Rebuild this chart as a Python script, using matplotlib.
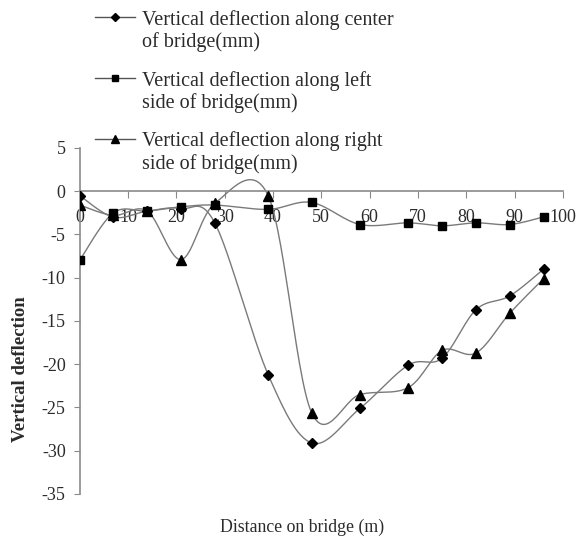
import matplotlib
matplotlib.use("Agg")
import matplotlib.pyplot as plt
from matplotlib.lines import Line2D
import numpy as np

plt.rcParams['font.family'] = ['Liberation Serif', 'DejaVu Serif']
plt.rcParams['axes.unicode_minus'] = False

# datos
distancia = [0, 7, 14, 21, 28, 39, 48, 58, 68, 75, 82, 89, 96]
centro = [-0.5, -3.0, -2.3, -2.0, -3.7, -21.2, -29.1, -25.1, -20.1, -19.3, -13.7, -12.1, -9.0]
izquierdo = [-8.0, -2.5, -2.3, -1.8, -1.6, -2.1, -1.3, -3.85, -3.66, -4.0, -3.66, -3.85, -2.97]
derecho = [-1.6, -2.8, -2.3, -7.9, -1.4, -0.5, -25.6, -23.5, -22.7, -18.4, -18.7, -14.1, -10.1]

etiquetas = ['Vertical deflection along center\nof bridge(mm)',
             'Vertical deflection along left\nside of bridge(mm)',
             'Vertical deflection along right\nside of bridge(mm)']
marcadores = ['D', 's', '^']
tam_marcadores = [5, 6, 7]

color_linea = '#7a7a7a'
color_texto = '#2b2b2b'


def suavizar(x, y, n=30):
    # curva suave estilo Excel (Bezier con tension 1/6)
    p = np.column_stack([x, y]).astype(float)
    pts = np.vstack([p[0], p, p[-1]])
    out = []
    for i in range(1, len(pts) - 2):
        p0, p1, p2, p3 = pts[i - 1], pts[i], pts[i + 1], pts[i + 2]
        c1 = p1 + (p2 - p0) / 6
        c2 = p2 - (p3 - p1) / 6
        t = np.linspace(0, 1, n)[:, None]
        seg = ((1 - t) ** 3) * p1 + 3 * ((1 - t) ** 2) * t * c1 + 3 * (1 - t) * t ** 2 * c2 + t ** 3 * p2
        out.append(seg)
    out = np.vstack(out)
    return out[:, 0], out[:, 1]


fig = plt.figure(figsize=(5.81, 5.39), dpi=100)
ax = fig.add_axes([0.137, 0.0835, 0.832, 0.642])

for serie, m, ms in zip([centro, izquierdo, derecho], marcadores, tam_marcadores):
    xs, ys = suavizar(distancia, serie)
    ax.plot(xs, ys, color=color_linea, lw=1.0, zorder=2)
    ax.plot(distancia, serie, linestyle='none', marker=m, markersize=ms,
            color='black', zorder=3)

ax.set_xlim(0, 100)
ax.set_ylim(-35, 5)
ax.set_xticks(range(0, 101, 10))
ax.set_yticks(range(-35, 6, 5))

ax.spines['top'].set_visible(False)
ax.spines['right'].set_visible(False)
ax.spines['bottom'].set_position(('data', 0))
for s in ['left', 'bottom']:
    ax.spines[s].set_color('#8a8a8a')
    ax.spines[s].set_linewidth(1.2)

ax.tick_params(axis='x', direction='out', length=5, color='#8a8a8a', pad=8,
               labelsize=13, labelcolor=color_texto)
ax.tick_params(axis='y', direction='out', length=4, color='#8a8a8a', pad=6,
               labelsize=13, labelcolor=color_texto)

ax.set_xlabel('Distance on bridge (m)', fontsize=12.8, color=color_texto)
ax.xaxis.set_label_coords(0.46, -0.07)
ax.set_ylabel('Vertical deflection', fontsize=13.5, fontweight='bold', color=color_texto)
ax.yaxis.set_label_coords(-0.105, 0.36)

# leyenda manual arriba
y0 = 0.968
paso = 0.113
for i, (lab, m, ms) in enumerate(zip(etiquetas, marcadores, tam_marcadores)):
    yy = y0 - i * paso
    fig.add_artist(Line2D([0.163, 0.232], [yy, yy], color='#555555', lw=1.0,
                          transform=fig.transFigure))
    fig.add_artist(Line2D([0.1975], [yy], marker=m, markersize=ms - 1, color='black',
                          linestyle='none', transform=fig.transFigure))
    fig.text(0.245, yy + 0.014, lab, fontsize=14.5, color=color_texto, va='top', ha='left',
             linespacing=1.15)

fig.savefig('out.png', dpi=100)
